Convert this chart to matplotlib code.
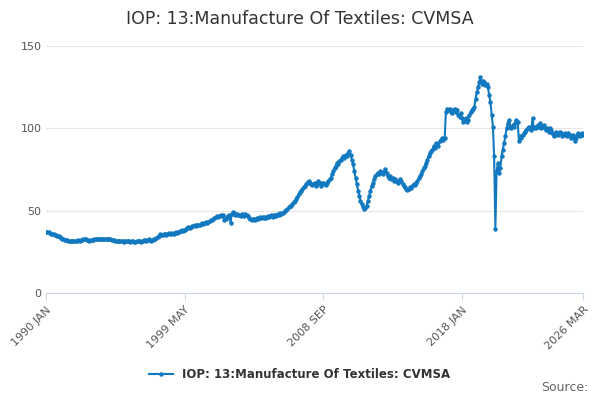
import matplotlib
matplotlib.use("Agg")
import matplotlib.pyplot as plt
import pandas as pd

title = "IOP: 13:Manufacture Of Textiles: CVMSA"
tick_labels = ["1990 JAN", "1999 MAY", "2008 SEP", "2018 JAN", "2026 MAR"]
tick_dates = ["1990-01-01", "1999-05-01", "2008-09-01", "2018-01-01", "2026-03-01"]

values = [
 37,37,36.8,36.5,36,35.8,35.5,35.3,35,34.8,34.5,34,            # 1990
 33.5,33,32.6,32.3,32,31.8,31.6,31.5,31.5,31.4,31.5,31.6,      # 1991
 31.5,31.6,31.8,31.7,32,32.3,32.5,32.6,32.4,32.2,31.9,31.7,    # 1992
 31.8,32,32.3,32.5,32.6,32.4,32.6,32.8,33,32.8,32.6,32.4,      # 1993
 32.5,32.7,32.9,32.8,32.5,32.3,32.1,31.9,31.7,31.5,31.4,31.3,  # 1994
 31.2,31.3,31.2,31.1,31.2,31.4,31.3,31.2,31.1,31.3,31.2,31.1,  # 1995
 31,31.2,31.4,31.6,31.3,31,31.5,31.8,32,31.5,32.2,32.5,        # 1996
 32,31.7,32.3,32.8,33,33.6,34,34.8,35.5,35,35.4,35.8,          # 1997
 35.5,35.2,35.8,36.2,35.5,35.9,36.4,36,36.6,37,36.5,37.2,      # 1998
 37.5,37.8,38,37.4,38.2,39,39.5,40,39.6,40.2,40.5,40.8,        # 1999
 41,40.6,41.2,41.5,41,41.8,42.2,42,42.5,43,42.6,43.2,          # 2000
 43.5,44,44.4,45,45.5,46,46.4,45.8,46.5,47,46.6,47.2,          # 2001
 44,45,46,46.5,47,42.5,48,49,48.5,47.5,48,47,                  # 2002
 47,46.5,48,47.5,46.8,48,47.2,46.5,45.5,45,44.5,45,            # 2003
 45,44.3,45.2,44.8,45.5,46,45.2,46.2,45.6,46,45.4,46.4,        # 2004
 46,46.8,47,46.2,47.5,47,46.8,48,47.5,48.2,48,48.8,            # 2005
 49,50,50.5,51,52,52.5,53,54,55,56,57,58,                      # 2006
 60,61,62,63,64,65,66,67,68,67,66,65.5,                        # 2007
 66,67,65,66,68,66.5,65,66.5,67,66,65.5,67,                    # 2008
 68,69,70,72,74,76,77,79,78,80,81,82,                          # 2009
 83,82,84,83,85,86,84,81,78,74,70,66,                          # 2010
 62,59,56,54,52,51,51.5,53,56,59,62,65,                        # 2011
 67,69,71,72,73,72,74,73,72,74,75,73,                          # 2012
 71,70,71,69,70,68,69,68,67,68,69,68,                          # 2013
 66,65,64,63,62.5,63,64,63.5,65,66,65.5,67,                    # 2014
 68,70,71,72,74,76,77,79,81,83,85,86,                          # 2015
 87,89,88,91,90,89,92,93,94,93,94,110,                         # 2016
 112,111,112,110,109,111,112,110,111,108,107,109,              # 2017
 106,104,105,106,104,105,108,110,111,112,113,118,              # 2018
 122,125,128,131,127,129,128,126,127,125,120,116,              # 2019
 108,101,83,39,74,79,73,76,83,87,91,95,                        # 2020
 100,103,105,101,100,102,101,103,105,104,92,95,                # 2021
 94,96,97,98,99,100,101,100,99,106,100,101,                    # 2022
 100,102,101,103,100,101,102,100,99,100,98,100,                # 2023
 99,97,95,96,98,97,96,98,97,95,96,97,                          # 2024
 96,95,97,96,94,95,96,92,94,96,97,95,                          # 2025
 96,97,96,                                                     # 2026
]
dates = pd.date_range("1990-01-01", periods=len(values), freq="MS")

color = "#1279c1"
fig = plt.figure(figsize=(6, 4), dpi=100)
ax = fig.add_axes([0.077, 0.268, 0.895, 0.617])
ax.plot(dates, values, color=color, lw=1.5, marker="o", ms=2.2,
        label="IOP: 13:Manufacture Of Textiles: CVMSA")
ax.set_ylim(0, 150)
ax.set_yticks([0, 50, 100, 150])
ax.set_xlim(pd.Timestamp("1990-01-01"), pd.Timestamp("2026-03-01"))
ax.set_xticks(pd.to_datetime(tick_dates))
ax.set_xticklabels(tick_labels, rotation=45, ha="right", rotation_mode="anchor",
                   fontsize=8, color="#555555")
ax.tick_params(axis="y", length=0, labelsize=8, labelcolor="#555555")
ax.tick_params(axis="x", length=5, color="#ccd6eb")
ax.grid(axis="y", color="#e6e6e6", lw=0.8)
for s in ["top", "right", "left"]:
    ax.spines[s].set_visible(False)
ax.spines["bottom"].set_color("#ccd6eb")
fig.suptitle(title, y=0.975, fontsize=12.5, color="#333333")
fig.legend(loc="lower center", bbox_to_anchor=(0.5, 0.02), frameon=False,
           prop={"size": 8.5, "weight": "bold"}, labelcolor="#333333")
fig.text(0.98, 0.015, "Source:", ha="right", va="bottom", fontsize=9, color="#666666")
fig.savefig("out.png", dpi=100)
